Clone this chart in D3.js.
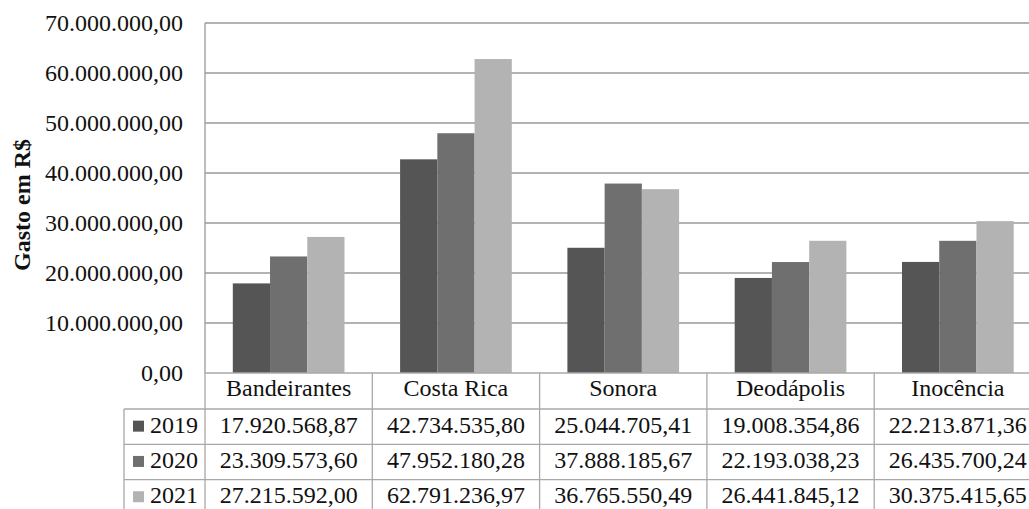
<!DOCTYPE html>
<html><head><meta charset="utf-8">
<script src="https://cdn.jsdelivr.net/npm/d3@7"></script>
<style>
html,body{margin:0;padding:0;background:#fff;overflow:hidden}
svg{display:block}
svg text{font-family:"Liberation Serif","DejaVu Serif","Noto Serif",serif !important}
</style></head>
<body><svg id="c" width="1029" height="509"></svg>
<script>
const categories = ["Bandeirantes","Costa Rica","Sonora","Deodápolis","Inocência"];
const years = ["2019","2020","2021"];
const v2019 = [17920568.87, 42734535.80, 25044705.41, 19008354.86, 22213871.36];
const v2020 = [23309573.60, 47952180.28, 37888185.67, 22193038.23, 26435700.24];
const v2021 = [27215592.00, 62791236.97, 36765550.49, 26441845.12, 30375415.65];
const yTicks = [0,10000000,20000000,30000000,40000000,50000000,60000000,70000000];
const seriesValues = [v2019, v2020, v2021];
const colors = ["#555555","#6f6f6f","#b3b3b3"];

const loc = d3.formatLocale({decimal:",",thousands:".",grouping:[3],currency:["R$",""]});
const fmt = loc.format(",.2f");

const FONT = "Liberation Serif, DejaVu Serif, serif";
const svg = d3.select("#c");
const plotLeft = 205, bw = 167.3, plotTop = 23, base = 373;
const fs = 24;
const gridColor = "#9a9a9a", tableColor = "#a8a8a8";

const x0 = d3.scaleBand().domain(categories).range([plotLeft, plotLeft + bw*categories.length]).padding(0);
const x1 = d3.scaleBand().domain(years).range([27.8, bw-27.8]).padding(0);
const y = d3.scaleLinear().domain([0,70000000]).range([base, plotTop]);

// gridlines
svg.append("g").selectAll("line").data(yTicks.filter(d=>d>0)).join("line")
  .attr("x1", plotLeft).attr("x2", x0.range()[1])
  .attr("y1", d=>y(d)).attr("y2", d=>y(d))
  .attr("stroke", gridColor).attr("stroke-width",1.3);

// y axis labels
const yAxis = d3.axisLeft(y).tickValues(yTicks).tickFormat(fmt).tickSize(0).tickPadding(22);
const ga = svg.append("g").attr("transform",`translate(${plotLeft},0)`).call(yAxis)
  .attr("font-family", FONT).attr("font-size", fs);
ga.select(".domain").remove();
ga.selectAll("text").attr("font-size",fs).attr("fill","#111").attr("dy","0.32em");

// left axis line
svg.append("line").attr("x1",plotLeft).attr("x2",plotLeft).attr("y1",plotTop).attr("y2",base)
  .attr("stroke",gridColor).attr("stroke-width",1.3);

// bars
const gBars = svg.append("g");
categories.forEach((c,i)=>{
  years.forEach((yr,j)=>{
    const v = seriesValues[j][i];
    gBars.append("rect")
      .attr("x", x0(c)+x1(yr)).attr("width", x1.bandwidth())
      .attr("y", y(v)).attr("height", y(0)-y(v))
      .attr("fill", colors[j]);
  });
});

// table
const rowH = 35.3, headH = 36;
const tableLeft = 124;
const rowTops = years.map((d,i)=> base + headH + i*rowH);
const tableBottom = base + headH + years.length*rowH;
const gT = svg.append("g").attr("font-family", FONT);
gT.append("line").attr("x1",plotLeft).attr("x2",x0.range()[1]).attr("y1",base).attr("y2",base)
  .attr("stroke",tableColor).attr("stroke-width",1.3);
rowTops.forEach(t=>{
  gT.append("line").attr("x1",tableLeft).attr("x2",x0.range()[1]).attr("y1",t).attr("y2",t)
    .attr("stroke",tableColor).attr("stroke-width",1.3);
});
const vx = categories.map(c=>x0(c)).concat([x0.range()[1]]);
vx.forEach(xx=>{
  gT.append("line").attr("x1",xx).attr("x2",xx).attr("y1",base).attr("y2",tableBottom)
    .attr("stroke",tableColor).attr("stroke-width",1.3);
});
gT.append("line").attr("x1",tableLeft).attr("x2",tableLeft).attr("y1",rowTops[0]).attr("y2",tableBottom)
  .attr("stroke",tableColor).attr("stroke-width",1.3);

gT.selectAll("text.h").data(categories).join("text").attr("class","h")
  .attr("x", d=>x0(d)+bw/2).attr("y", base+headH/2-3)
  .attr("text-anchor","middle").attr("dominant-baseline","central")
  .attr("font-size",fs).attr("fill","#111").text(d=>d);

years.forEach((yr,j)=>{
  const cy = rowTops[j]+rowH/2;
  gT.append("rect").attr("x",133).attr("y",cy-6).attr("width",11).attr("height",11).attr("fill",colors[j]);
  gT.append("text").attr("x",150).attr("y",cy-2).attr("dominant-baseline","central")
    .attr("font-size",fs).attr("fill","#111").text(yr);
  categories.forEach((c,i)=>{
    gT.append("text").attr("x",x0(c)+bw/2).attr("y",cy-2)
      .attr("text-anchor","middle").attr("dominant-baseline","central")
      .attr("font-size",fs).attr("fill","#111").text(fmt(seriesValues[j][i]));
  });
});

svg.append("text").attr("transform","translate(22,205) rotate(-90)")
  .attr("font-family", FONT)
  .attr("text-anchor","middle").attr("dominant-baseline","central")
  .attr("font-size",fs).attr("font-weight","bold").attr("fill","#111").text("Gasto em R$");
</script></body></html>
